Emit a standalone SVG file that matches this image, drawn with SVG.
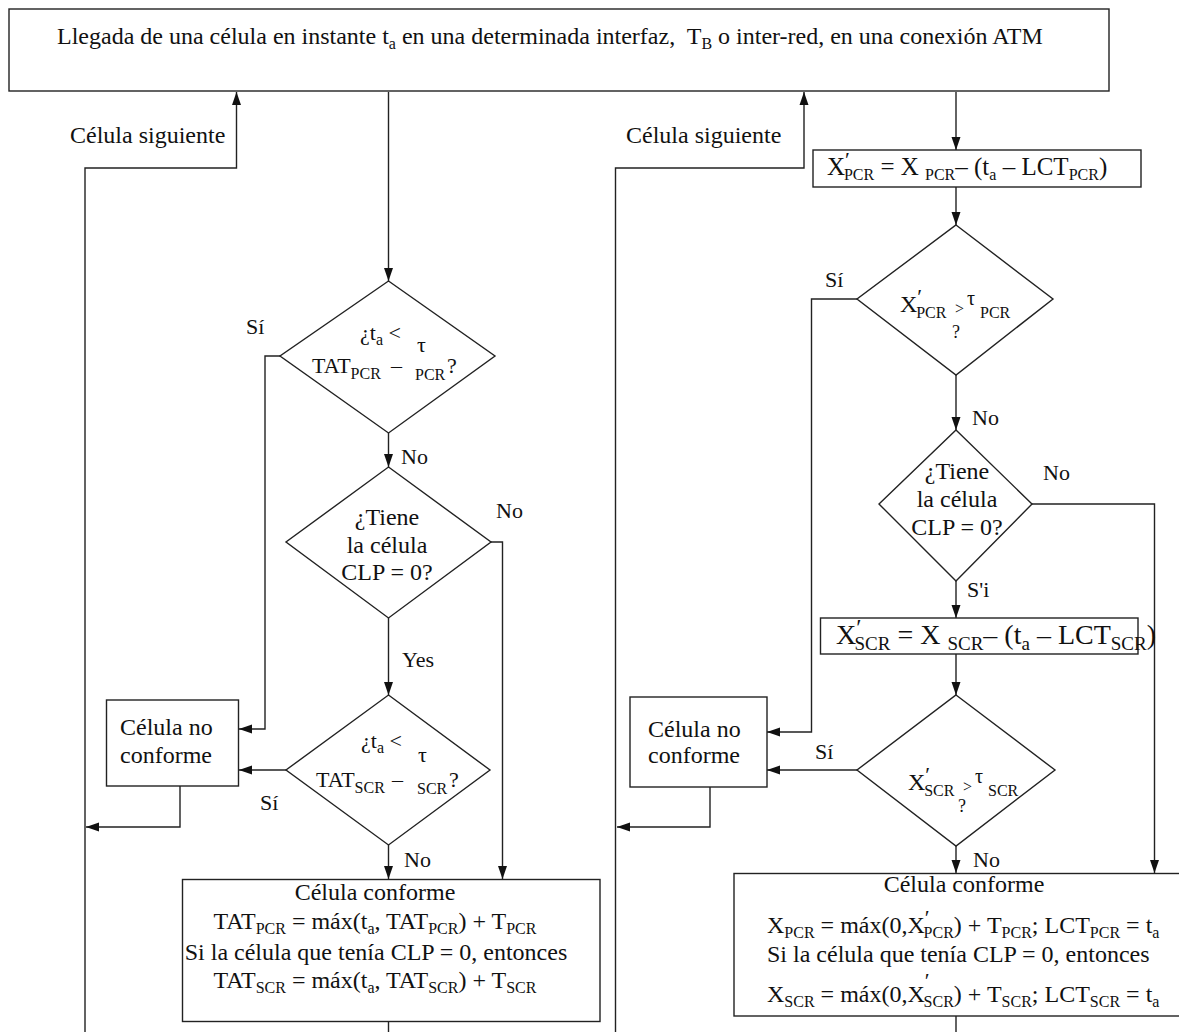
<svg xmlns="http://www.w3.org/2000/svg" width="1179" height="1032" viewBox="0 0 1179 1032" font-family="'Liberation Serif', 'Times New Roman', serif">
  <style>
    text { font-family: "Liberation Serif", "Times New Roman", Times, serif; }
    .t { font-family: "Liberation Serif", "Times New Roman", Times, serif; font-size: 24px; fill: #111; }
    .lbl { font-size: 22px; }
    .dt { font-size: 22px; }
    .sub { font-size: 16px; }
    .ln { fill: none; stroke: #222; stroke-width: 1.4; }
    .box { fill: #fff; stroke: #222; stroke-width: 1.4; }
  </style>
  <defs>
    <marker id="arr" markerUnits="userSpaceOnUse" markerWidth="13" markerHeight="10" refX="13" refY="5" orient="auto">
      <path d="M0,0.5 L13,5 L0,9.5 z" fill="#111"/>
    </marker>
  </defs>
  <rect width="1179" height="1032" fill="#fff"/>

  <!-- connectors -->
  <g id="connectors" class="ln" marker-end="url(#arr)">
    <!-- left branch -->
    <polyline points="85,1032 85,168 236.5,168 236.5,92"/>
    <polyline points="388.5,92 388.5,281"/>
    <polyline points="280,356 265,356 265,729 239,729"/>
    <polyline points="388.5,433 388.5,467"/>
    <polyline points="491,542 502.5,542 502.5,879"/>
    <polyline points="388.5,618 388.5,695"/>
    <polyline points="286,770 239,770"/>
    <polyline points="180,786 180,827 86,827"/>
    <polyline points="388.5,845 388.5,879"/>
    <polyline points="388.5,1021 388.5,1032" marker-end="none"/>
    <!-- right branch -->
    <polyline points="615.5,1032 615.5,168 804,168 804,92"/>
    <polyline points="956,92 956,150"/>
    <polyline points="956,187 956,225"/>
    <polyline points="857,299 811.5,299 811.5,732 767,732"/>
    <polyline points="956,375 956,430"/>
    <polyline points="1032,504 1154.5,504 1154.5,873"/>
    <polyline points="956,581 956,618"/>
    <polyline points="956,654 956,695"/>
    <polyline points="857,770 767,770"/>
    <polyline points="710,787 710,827 617,827"/>
    <polyline points="956,846 956,873"/>
    <polyline points="956,1016 956,1032" marker-end="none"/>
  </g>

  <!-- start box -->
  <g id="llegada">
    <rect class="box" x="9" y="9" width="1100" height="82"/>
    <text class="t" x="57" y="44" xml:space="preserve">Llegada de una célula en instante t<tspan class="sub" dy="5">a</tspan><tspan dy="-5"> en una determinada interfaz,  T</tspan><tspan class="sub" dy="5">B</tspan><tspan dy="-5"> o inter-red, en una conexión ATM</tspan></text>
  </g>

  <!-- edge labels -->
  <g id="labels" class="t">
    <text x="70" y="143">Célula siguiente</text>
    <text x="626" y="143">Célula siguiente</text>
    <text class="lbl" x="246" y="334">Sí</text>
    <text class="lbl" x="401" y="464">No</text>
    <text class="lbl" x="496" y="518">No</text>
    <text class="lbl" x="402" y="667">Yes</text>
    <text class="lbl" x="260" y="810">Sí</text>
    <text class="lbl" x="404" y="867">No</text>
    <text class="lbl" x="825" y="287">Sí</text>
    <text class="lbl" x="972" y="425">No</text>
    <text class="lbl" x="1043" y="480">No</text>
    <text class="lbl" x="967" y="597">S'i</text>
    <text class="lbl" x="815" y="759">Sí</text>
    <text class="lbl" x="973" y="867">No</text>
  </g>

  <!-- left column -->
  <g id="d-tat-pcr" class="t">
    <polygon class="box" points="388.5,281 495,356 388.5,433 280,356"/>
    <text class="dt" x="360" y="340">¿t<tspan class="sub" dy="5">a</tspan><tspan dy="-5"> &lt;</tspan></text>
    <text class="dt" x="417" y="352">τ</text>
    <text class="dt" x="312" y="373">TAT<tspan class="sub" dy="6">PCR</tspan></text>
    <text class="dt" x="391" y="373">–</text>
    <text class="sub" x="415" y="380">PCR</text>
    <text class="dt" x="447" y="373">?</text>
  </g>

  <g id="d-clp-left" class="t" text-anchor="middle">
    <polygon class="box" points="388.5,467 491,542 388.5,618 286,542"/>
    <text x="387" y="525">¿Tiene</text>
    <text x="387" y="553">la célula</text>
    <text x="387" y="580">CLP = 0?</text>
  </g>

  <g id="d-tat-scr" class="t">
    <polygon class="box" points="388.5,695 490,770 388.5,845 286,770"/>
    <text class="dt" x="361" y="748">¿t<tspan class="sub" dy="5">a</tspan><tspan dy="-5"> &lt;</tspan></text>
    <text class="dt" x="418" y="762">τ</text>
    <text class="dt" x="316" y="787">TAT<tspan class="sub" dy="6">SCR</tspan></text>
    <text class="dt" x="392" y="787">–</text>
    <text class="sub" x="417" y="794">SCR</text>
    <text class="dt" x="449" y="787">?</text>
  </g>

  <g id="no-conforme-left" class="t">
    <rect class="box" x="106.5" y="700" width="132" height="86"/>
    <text x="120" y="735">Célula no</text>
    <text x="120" y="763">conforme</text>
  </g>

  <g id="conforme-left" class="t" text-anchor="middle">
    <rect class="box" x="182.5" y="879.5" width="417.5" height="142"/>
    <text x="375" y="900">Célula conforme</text>
    <text x="375" y="929">TAT<tspan class="sub" dy="5">PCR</tspan><tspan dy="-5"> = máx(t</tspan><tspan class="sub" dy="5">a</tspan><tspan dy="-5">, TAT</tspan><tspan class="sub" dy="5">PCR</tspan><tspan dy="-5">) + T</tspan><tspan class="sub" dy="5">PCR</tspan></text>
    <text x="376" y="960">Si la célula que tenía CLP = 0, entonces</text>
    <text x="375" y="988">TAT<tspan class="sub" dy="5">SCR</tspan><tspan dy="-5"> = máx(t</tspan><tspan class="sub" dy="5">a</tspan><tspan dy="-5">, TAT</tspan><tspan class="sub" dy="5">SCR</tspan><tspan dy="-5">) + T</tspan><tspan class="sub" dy="5">SCR</tspan></text>
  </g>

  <!-- right column -->
  <g id="x-pcr" class="t">
    <rect class="box" x="813" y="150" width="328" height="37"/>
    <text x="827" y="175" font-size="25">X<tspan font-size="22" dy="-8">′</tspan><tspan class="sub" dx="-6" dy="13">PCR</tspan><tspan dy="-5"> = X </tspan><tspan class="sub" dy="5">PCR</tspan><tspan dy="-5">– (t</tspan><tspan class="sub" dy="5">a</tspan><tspan dy="-5"> – LCT</tspan><tspan class="sub" dy="5">PCR</tspan><tspan dy="-5">)</tspan></text>
  </g>

  <g id="d-x-pcr" class="t">
    <polygon class="box" points="956,225 1053,299 956,375 857,299"/>
    <text x="900" y="312">X<tspan font-size="22" dy="-8">′</tspan><tspan class="sub" dx="-6" dy="14">PCR</tspan></text>
    <text x="955" y="314" font-size="16">&gt;</text>
    <text x="967" y="305" font-size="20">τ</text>
    <text class="sub" x="980" y="318">PCR</text>
    <text x="952" y="338" font-size="18">?</text>
  </g>

  <g id="d-clp-right" class="t" text-anchor="middle">
    <polygon class="box" points="956,430 1032,504 956,581 879,504"/>
    <text x="957" y="479">¿Tiene</text>
    <text x="957" y="507">la célula</text>
    <text x="957" y="535">CLP = 0?</text>
  </g>

  <g id="x-scr" class="t">
    <rect class="box" x="820.5" y="618" width="317.5" height="36"/>
    <text x="836" y="644" font-size="28">X<tspan font-size="24" dy="-9">′</tspan><tspan font-size="19" dx="-7" dy="15">SCR</tspan><tspan dy="-6"> = X </tspan><tspan font-size="19" dy="6">SCR</tspan><tspan dy="-6">– (t</tspan><tspan font-size="19" dy="6">a</tspan><tspan dy="-6"> – LCT</tspan><tspan font-size="19" dy="6">SCR</tspan><tspan dy="-6">)</tspan></text>
  </g>

  <g id="d-x-scr" class="t">
    <polygon class="box" points="956,695 1055,770 956,846 857,770"/>
    <text x="908" y="790">X<tspan font-size="22" dy="-8">′</tspan><tspan class="sub" dx="-6" dy="14">SCR</tspan></text>
    <text x="963" y="792" font-size="16">&gt;</text>
    <text x="975" y="783" font-size="20">τ</text>
    <text class="sub" x="988" y="796">SCR</text>
    <text x="958" y="812" font-size="18">?</text>
  </g>

  <g id="no-conforme-right" class="t">
    <rect class="box" x="630" y="697" width="137" height="90"/>
    <text x="648" y="737">Célula no</text>
    <text x="648" y="763">conforme</text>
  </g>

  <g id="conforme-right" class="t">
    <rect class="box" x="734" y="873.5" width="460" height="142.5"/>
    <text x="964" y="892" text-anchor="middle">Célula conforme</text>
    <text x="767" y="933">X<tspan class="sub" dy="5">PCR</tspan><tspan dy="-5"> = máx(0,X</tspan><tspan font-size="22" dy="-8">′</tspan><tspan class="sub" dx="-6" dy="13">PCR</tspan><tspan dy="-5">) + T</tspan><tspan class="sub" dy="5">PCR</tspan><tspan dy="-5">; LCT</tspan><tspan class="sub" dy="5">PCR</tspan><tspan dy="-5"> = t</tspan><tspan class="sub" dy="5">a</tspan></text>
    <text x="767" y="962">Si la célula que tenía CLP = 0, entonces</text>
    <text x="767" y="1002">X<tspan class="sub" dy="5">SCR</tspan><tspan dy="-5"> = máx(0,X</tspan><tspan font-size="22" dy="-14">′</tspan><tspan class="sub" dx="-6" dy="19">SCR</tspan><tspan dy="-5">) + T</tspan><tspan class="sub" dy="5">SCR</tspan><tspan dy="-5">; LCT</tspan><tspan class="sub" dy="5">SCR</tspan><tspan dy="-5"> = t</tspan><tspan class="sub" dy="5">a</tspan></text>
  </g>
</svg>
